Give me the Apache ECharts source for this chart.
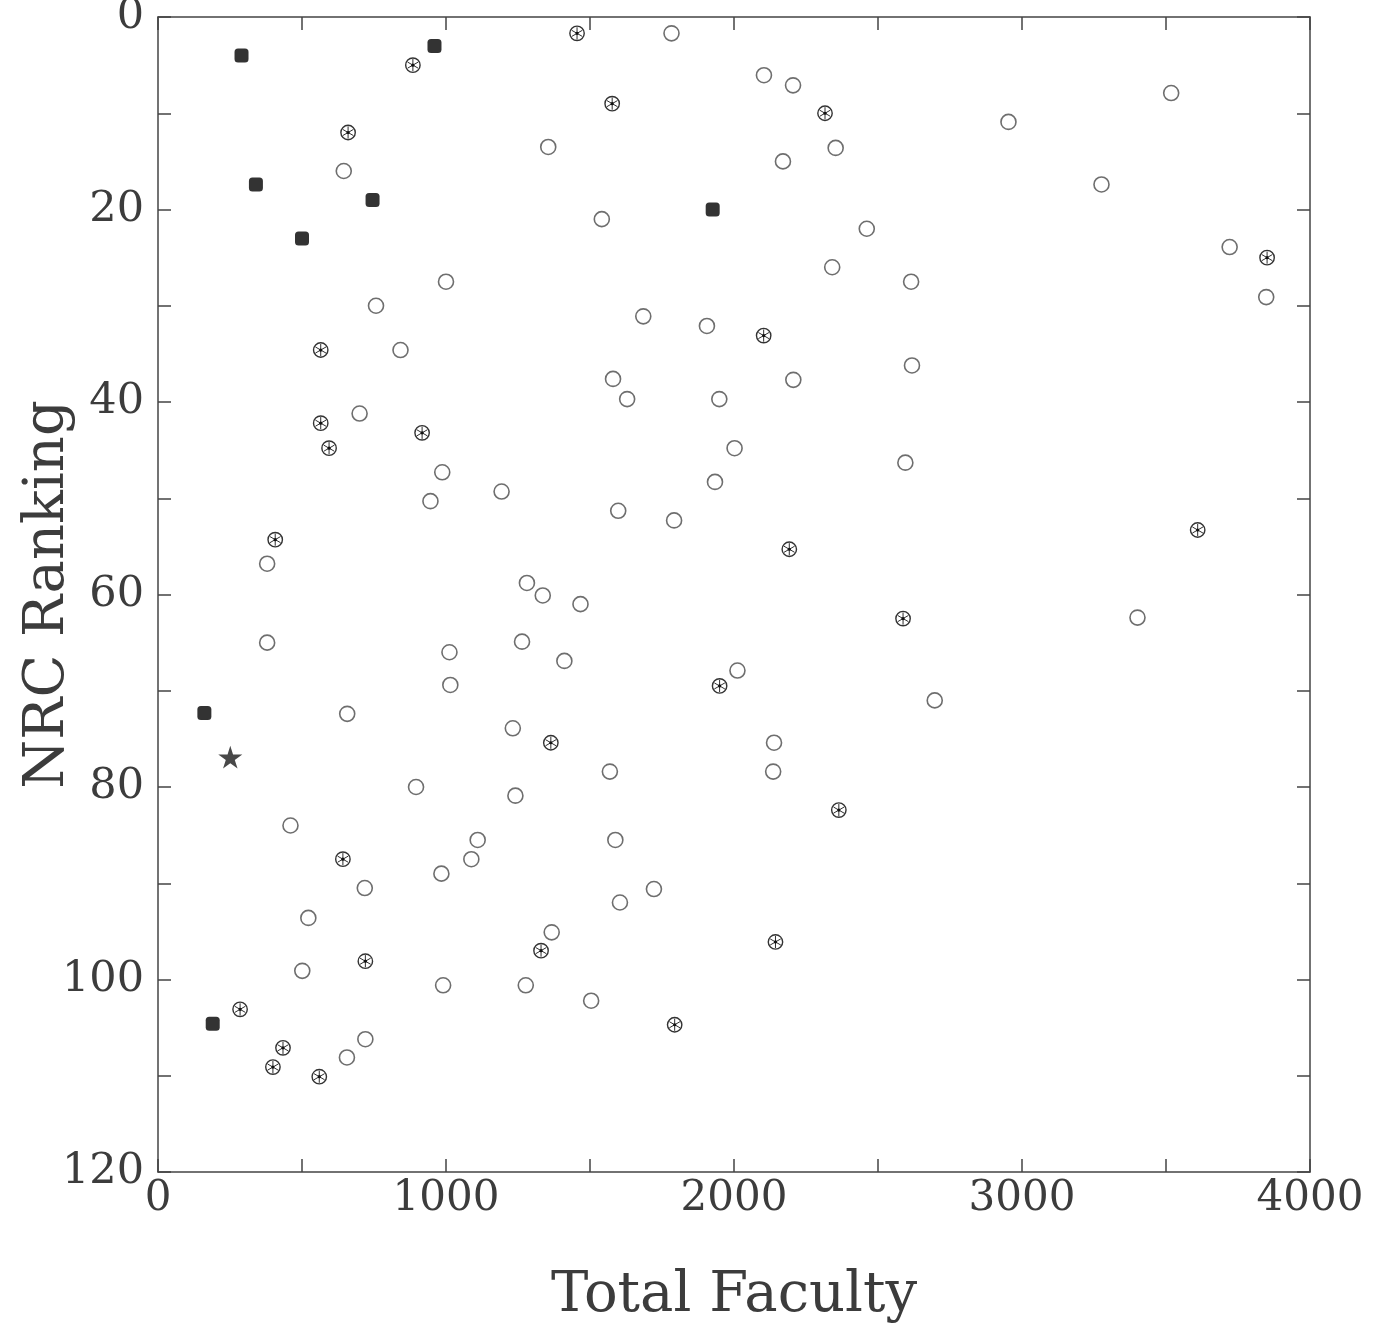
<!DOCTYPE html>
<html>
<head>
<meta charset="utf-8">
<script src="https://cdn.jsdelivr.net/npm/echarts@6/dist/echarts.min.js"></script>
<style>
html,body{margin:0;padding:0;background:#fff;}
#chart{width:1376px;height:1332px;}
</style>
</head>
<body>
<div id="chart"></div>
<script>
// Axis settings / tick labels
const xTickLabels = [0, 1000, 2000, 3000, 4000];
const yTickLabels = [0, 20, 40, 60, 80, 100, 120];
const xTitle = 'Total Faculty';
const yTitle = 'NRC Ranking';

// Filled squares [Total Faculty, NRC Ranking]
const filledSquares = [
  [290, 4], [960, 3], [340, 17.4], [745, 19], [500, 23], [1926, 20], [161, 72.3], [190, 104.6]
];
// Star
const starPoints = [[251, 76.9]];
// Circles with asterisk
const asteriskCircles = [
  [1455, 1.7], [885, 5], [1577, 9.0], [660, 12], [2316, 10], [565, 34.6], [2103, 33.1],
  [565, 42.2], [594, 44.8], [917, 43.2], [407, 54.3], [2192, 55.3], [3851, 25], [3610, 53.3],
  [2587, 62.5], [1950, 69.5], [1364, 75.4], [642, 87.5], [2364, 82.4], [2144, 96.1],
  [720, 98.1], [1330, 97], [285, 103.1], [434, 107.1], [399, 109.1], [560, 110.1], [1794, 104.7]
];
// Open circles
const openCircles = [
  [1355, 13.5], [645, 16], [1000, 27.5], [757, 30], [842, 34.6], [700, 41.2], [987, 47.3],
  [1193, 49.3], [946, 50.3], [379, 56.8], [1281, 58.8], [1336, 60.1],
  [1783, 1.7], [2104, 6.05], [2205, 7.1], [2353, 13.6], [2170, 15], [1541, 21], [2461, 22],
  [2341, 26], [2615, 27.5], [1685, 31.1], [1906, 32.1], [2618, 36.2], [1580, 37.6], [2206, 37.7],
  [1629, 39.7], [1949, 39.7], [2002, 44.8], [2595, 46.3], [1934, 48.3], [1598, 51.3], [1792, 52.3],
  [3518, 7.9], [2953, 10.9], [3276, 17.4], [3721, 23.9], [3848, 29.1],
  [379, 65], [1012, 66], [1264, 64.9], [1015, 69.4], [657, 72.4], [1232, 73.9], [896, 80],
  [1241, 80.9], [460, 84], [1110, 85.5], [1088, 87.5], [984, 89], [718, 90.5], [522, 93.6],
  [501, 99.1], [990, 100.6], [1277, 100.6], [720, 106.2], [656, 108.1],
  [1467, 61], [1411, 66.9], [2012, 67.9], [2697, 71], [2139, 75.4], [1569, 78.4], [2136, 78.4],
  [1588, 85.5], [1722, 90.6], [1604, 92], [1367, 95.1], [1504, 102.2],
  [3401, 62.4]
];

const FONT = 'DejaVu Serif';
const INK = '#3c3c3c';
const LINE = '#444';

const chart = echarts.init(document.getElementById('chart'), null, {renderer: 'canvas'});

const baseX = {
  type: 'value', min: 0, max: 4000, interval: 500,
  axisLine: {show: true, onZero: false, lineStyle: {color: LINE, width: 1.5}},
  axisTick: {show: true, inside: true, length: 13, lineStyle: {color: LINE, width: 1.5}},
  splitLine: {show: false}
};
const baseY = {
  type: 'value', min: 0, max: 120, interval: 10, inverse: true,
  axisLine: {show: true, onZero: false, lineStyle: {color: LINE, width: 1.5}},
  axisTick: {show: true, inside: true, length: 13, lineStyle: {color: LINE, width: 1.5}},
  splitLine: {show: false}
};

const option = {
  backgroundColor: '#fff',
  animation: false,
  grid: {left: 158, right: 66, top: 17, bottom: 160, containLabel: false, outerBoundsMode: 'none'},
  xAxis: [
    Object.assign({}, baseX, {
      position: 'bottom',
      name: xTitle, nameLocation: 'middle', nameGap: 96, nameMoveOverlap: false,
      nameTextStyle: {fontFamily: FONT, fontSize: 56, color: INK},
      axisLabel: {
        show: true, margin: 6, fontFamily: FONT, fontSize: 42, color: INK,
        formatter: v => (xTickLabels.indexOf(v) >= 0 ? String(v) : '')
      }
    }),
    Object.assign({}, baseX, {position: 'top', axisLabel: {show: false}})
  ],
  yAxis: [
    Object.assign({}, baseY, {
      position: 'left',
      name: yTitle, nameLocation: 'middle', nameGap: 82, nameMoveOverlap: false,
      nameTextStyle: {fontFamily: FONT, fontSize: 56, color: INK},
      axisLabel: {
        show: true, margin: 14, fontFamily: FONT, fontSize: 43, color: INK,
        formatter: v => (yTickLabels.indexOf(v) >= 0 ? String(v) : '')
      }
    }),
    Object.assign({}, baseY, {position: 'right', axisLabel: {show: false}})
  ],
  series: [
    {
      type: 'scatter', name: 'open', data: openCircles,
      symbol: 'circle', symbolSize: 15,
      itemStyle: {color: '#fff', borderColor: '#4a4a4a', borderWidth: 1.6}
    },
    {
      type: 'custom', name: 'asterisk', data: asteriskCircles,
      encode: {x: 0, y: 1},
      renderItem: function (params, api) {
        const p = api.coord([api.value(0), api.value(1)]);
        const r = 7.2, s = r * 0.85;
        const st = {stroke: '#2e2e2e', lineWidth: 1};
        const lines = [90, 30, 150].map(a => {
          const rad = a * Math.PI / 180;
          const dx = Math.cos(rad) * s, dy = Math.sin(rad) * s;
          return {type: 'line', shape: {x1: p[0] - dx, y1: p[1] - dy, x2: p[0] + dx, y2: p[1] + dy}, style: st};
        });
        return {
          type: 'group',
          children: [
            {type: 'circle', shape: {cx: p[0], cy: p[1], r: r}, style: {fill: '#fff', stroke: '#333', lineWidth: 1.4}}
          ].concat(lines).concat([
            {type: 'circle', shape: {cx: p[0], cy: p[1], r: 1.6}, style: {fill: '#111'}}
          ])
        };
      }
    },
    {
      type: 'scatter', name: 'filled', data: filledSquares,
      symbol: 'roundRect', symbolSize: 14,
      itemStyle: {color: '#000'}
    },
    {
      type: 'scatter', name: 'star', data: starPoints,
      symbol: 'path://M50,0 L61,35 L98,35 L68,57 L79,91 L50,70 L21,91 L32,57 L2,35 L39,35 Z',
      symbolSize: 24, symbolKeepAspect: true,
      itemStyle: {color: '#1a1a1a'}
    }
  ]
};
chart.setOption(option);
</script>
</body>
</html>
